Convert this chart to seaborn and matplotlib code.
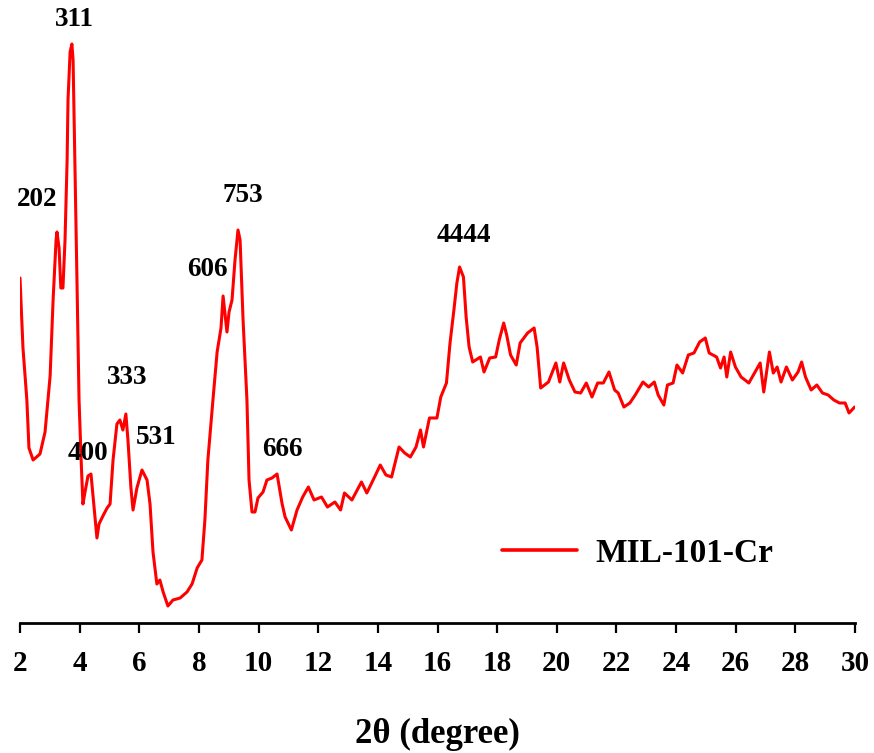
import matplotlib
matplotlib.use('Agg')
import matplotlib.pyplot as plt
import seaborn as sns
import pandas as pd

# XRD pattern of MIL-101-Cr (intensity in a.u.)
two_theta = [
    2.00, 2.10, 2.23, 2.30, 2.44, 2.67, 2.84, 3.01, 3.11, 3.21, 3.24, 3.31, 3.37, 3.44,
    3.51, 3.58, 3.61, 3.68, 3.74, 3.78, 3.84, 3.91, 3.98, 4.05, 4.11, 4.18, 4.28, 4.38,
    4.45, 4.58, 4.65, 4.78, 4.92, 5.02, 5.12, 5.25, 5.35, 5.45, 5.55, 5.62, 5.72, 5.79,
    5.92, 6.09, 6.26, 6.36, 6.46, 6.59, 6.69, 6.80, 6.96, 7.13, 7.37, 7.60, 7.77, 7.94,
    8.10, 8.20, 8.30, 8.47, 8.61, 8.74, 8.81, 8.94, 9.01, 9.11, 9.21, 9.31, 9.38, 9.48,
    9.61, 9.68, 9.78, 9.88, 9.98, 10.15, 10.28, 10.45, 10.62, 10.79, 10.89, 11.10, 11.29,
    11.48, 11.67, 11.86, 12.11, 12.31, 12.56, 12.75, 12.88, 13.13, 13.45, 13.63, 13.89,
    14.08, 14.27, 14.46, 14.71, 14.90, 15.09, 15.28, 15.43, 15.53, 15.73, 15.98, 16.11,
    16.30, 16.42, 16.55, 16.65, 16.74, 16.87, 16.96, 17.06, 17.18, 17.44, 17.56, 17.75,
    17.95, 18.07, 18.22, 18.32, 18.45, 18.64, 18.77, 19.02, 19.24, 19.34, 19.46, 19.72,
    19.97, 20.10, 20.23, 20.42, 20.61, 20.80, 20.99, 21.18, 21.37, 21.56, 21.75, 21.94,
    22.06, 22.25, 22.45, 22.63, 22.89, 23.08, 23.27, 23.40, 23.59, 23.71, 23.90, 24.03,
    24.22, 24.41, 24.60, 24.79, 24.98, 25.11, 25.36, 25.49, 25.61, 25.70, 25.83, 25.99,
    26.18, 26.44, 26.63, 26.82, 26.94, 27.13, 27.26, 27.39, 27.52, 27.70, 27.90, 28.09,
    28.21, 28.34, 28.53, 28.72, 28.91, 29.10, 29.29, 29.48, 29.67, 29.80, 29.99,
]
intensity = [
    345, 275, 223, 175, 163, 169, 191, 247, 323, 383, 391, 375, 335, 335,
    383, 463, 523, 571, 579, 563, 463, 343, 223, 163, 119, 131, 147, 149,
    127, 85, 99, 107, 115, 119, 163, 199, 203, 193, 209, 183, 135, 113,
    135, 153, 143, 119, 71, 39, 43, 31, 17, 23, 25, 31, 39, 55,
    63, 103, 163, 223, 271, 295, 327, 291, 311, 323, 363, 393, 383, 303,
    223, 143, 111, 111, 125, 131, 143, 145, 149, 119, 106, 93, 113,
    126, 136, 123, 126, 116, 121, 113, 130, 123, 141, 130, 146,
    158, 148, 146, 176, 170, 166, 176, 193, 176, 205, 205, 226,
    240, 280, 313, 340, 356, 346, 306, 276, 261, 266, 251, 265,
    266, 283, 300, 288, 268, 258, 280, 290, 295, 276, 235, 241,
    260, 241, 260, 243, 231, 230, 240, 226, 240, 240, 251, 233,
    230, 216, 220, 228, 241, 236, 241, 228, 218, 238, 240, 258,
    250, 268, 270, 281, 285, 270, 266, 255, 266, 246, 271, 256,
    246, 240, 250, 260, 231, 271, 250, 256, 241, 256, 243, 251,
    261, 246, 233, 238, 230, 228, 223, 220, 220, 210, 216,
]

peak_labels = ['311', '202', '400', '333', '531', '606', '753', '666', '4444']
peak_x = [3.82, 2.57, 4.29, 5.60, 6.55, 8.30, 9.46, 10.81, 16.87]
peak_y = [604, 424, 169, 246, 185, 353, 427, 174, 387]

series_name = 'MIL-101-Cr'

df = pd.DataFrame({'2theta': two_theta, 'I': intensity, 'sample': series_name})

sns.set_style('white')
plt.rcParams['font.family'] = ['Liberation Serif', 'DejaVu Serif']
plt.rcParams['font.weight'] = 'bold'
plt.rcParams['text.color'] = 'black'
plt.rcParams['axes.labelcolor'] = 'black'
plt.rcParams['xtick.color'] = 'black'

fig = plt.figure(figsize=(8.74, 7.53), dpi=100)
ax = fig.add_axes([20 / 874, 130 / 753, 835 / 874, 623 / 753])

sns.lineplot(data=df, x='2theta', y='I', hue='sample', palette=['#ff0000'],
             sort=False, lw=2.2, ax=ax)

for lab, px, py in zip(peak_labels, peak_x, peak_y):
    ax.text(px, py, lab, ha='center', va='center', fontsize=19.5,
            fontweight='bold', color='black', clip_on=False)

ax.set_xlim(2, 30)
ax.set_ylim(0, 623)
ax.set_xticks(range(2, 31, 2))
ax.set_yticks([])
ax.set_ylabel('')
for s in ['left', 'top', 'right']:
    ax.spines[s].set_visible(False)
ax.spines['bottom'].set_linewidth(2)
ax.spines['bottom'].set_color('black')
ax.tick_params(axis='x', direction='out', length=7.2, width=1.6, color='black',
               labelcolor='black', pad=12, labelsize=21, bottom=True)
for t in ax.get_xticklabels():
    t.set_fontweight('bold')

ax.set_xlabel('2θ (degree)', fontsize=25, fontweight='bold', color='black')
ax.xaxis.label.set_va('baseline')
ax.xaxis.set_label_coords(0.5, (623 - 743) / 623)

leg = ax.legend(loc='center left', bbox_to_anchor=((502 - 20) / 835, (623 - 553) / 623),
                frameon=False, borderpad=0, borderaxespad=0, handlelength=2.25,
                handletextpad=0.55, prop={'size': 24, 'weight': 'bold'})
for h in leg.get_lines():
    h.set_linewidth(2.6)
for t in leg.get_texts():
    t.set_color('black')

fig.savefig('out.png', dpi=100)
